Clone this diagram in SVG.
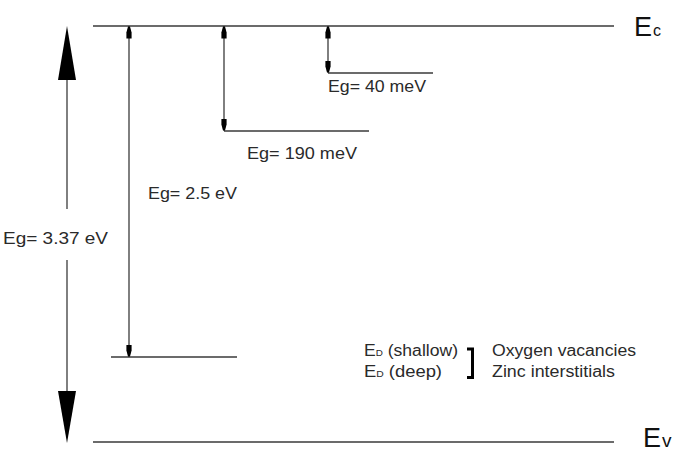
<svg xmlns="http://www.w3.org/2000/svg" width="682" height="458" viewBox="0 0 682 458">
<style>
.lvl{stroke:#3a3a3a;stroke-width:1.4;fill:none}
.arr{stroke:#2a2a2a;stroke-width:1.2;fill:none}
.t{font-family:"Liberation Sans",Arial,sans-serif;font-size:16px;fill:#2a2a2a}
.big{font-family:"Liberation Sans",Arial,sans-serif;font-size:27px;fill:#111}
.head{fill:#000}
</style>
<defs>
<marker id="sa" markerUnits="userSpaceOnUse" markerWidth="14" markerHeight="8" viewBox="0 -4 14 8" refX="12" refY="0" orient="auto-start-reverse">
<path d="M12,-1 L12,1 L6,2.6 L0,2.6 L0,-2.6 L6,-2.6 Z" fill="#000"/>
</marker>
</defs>
<rect width="682" height="458" fill="#fff"/>
<g id="ec-level">
<line class="lvl" x1="93" y1="26" x2="614" y2="26"/>
<text class="big" x="634" y="36">E<tspan font-size="16" dx="1">c</tspan></text>
</g>
<g id="ev-level">
<line class="lvl" x1="93" y1="442" x2="614" y2="442"/>
<text class="big" x="643" y="447">E<tspan font-size="19" dx="1">v</tspan></text>
</g>
<g id="level-40meV">
<line class="lvl" x1="328" y1="73" x2="433" y2="73"/>
<text class="t" x="328" y="92" textLength="98" lengthAdjust="spacingAndGlyphs">Eg= 40 meV</text>
</g>
<g id="level-190meV">
<line class="lvl" x1="224" y1="131" x2="369" y2="131"/>
<text class="t" x="247" y="159" textLength="110" lengthAdjust="spacingAndGlyphs">Eg= 190 meV</text>
</g>
<g id="level-2-5eV">
<line class="lvl" x1="111" y1="357" x2="237" y2="357"/>
<text class="t" x="148" y="199" textLength="89" lengthAdjust="spacingAndGlyphs">Eg= 2.5 eV</text>
</g>
<g id="bandgap">
<text class="t" x="3" y="244" textLength="105" lengthAdjust="spacingAndGlyphs">Eg= 3.37 eV</text>
</g>
<g id="legend">
<text class="t" x="364" y="356" textLength="94" lengthAdjust="spacingAndGlyphs">E<tspan font-size="9">D</tspan> (shallow)</text>
<text class="t" x="364" y="377" textLength="78" lengthAdjust="spacingAndGlyphs">E<tspan font-size="9">D</tspan> (deep)</text>
<path d="M467,349 H472.5 V377.5 H467" stroke="#000" stroke-width="3" fill="none"/>
<text class="t" x="492" y="356" textLength="144" lengthAdjust="spacingAndGlyphs">Oxygen vacancies</text>
<text class="t" x="492" y="377" textLength="123" lengthAdjust="spacingAndGlyphs">Zinc interstitials</text>
</g>
<g id="connectors">
<line class="arr" x1="67" y1="78" x2="67" y2="209"/>
<line class="arr" x1="67" y1="260" x2="67" y2="393"/>
<polygon class="head" points="67,26 76,80 58,80"/>
<polygon class="head" points="58,391 76,391 67,443"/>
<line class="arr" x1="129" y1="26.5" x2="129" y2="356.5" marker-start="url(#sa)" marker-end="url(#sa)"/>
<line class="arr" x1="224" y1="26.5" x2="224" y2="130.5" marker-start="url(#sa)" marker-end="url(#sa)"/>
<line class="arr" x1="328" y1="26.5" x2="328" y2="72.5" marker-start="url(#sa)" marker-end="url(#sa)"/>
</g>
</svg>
